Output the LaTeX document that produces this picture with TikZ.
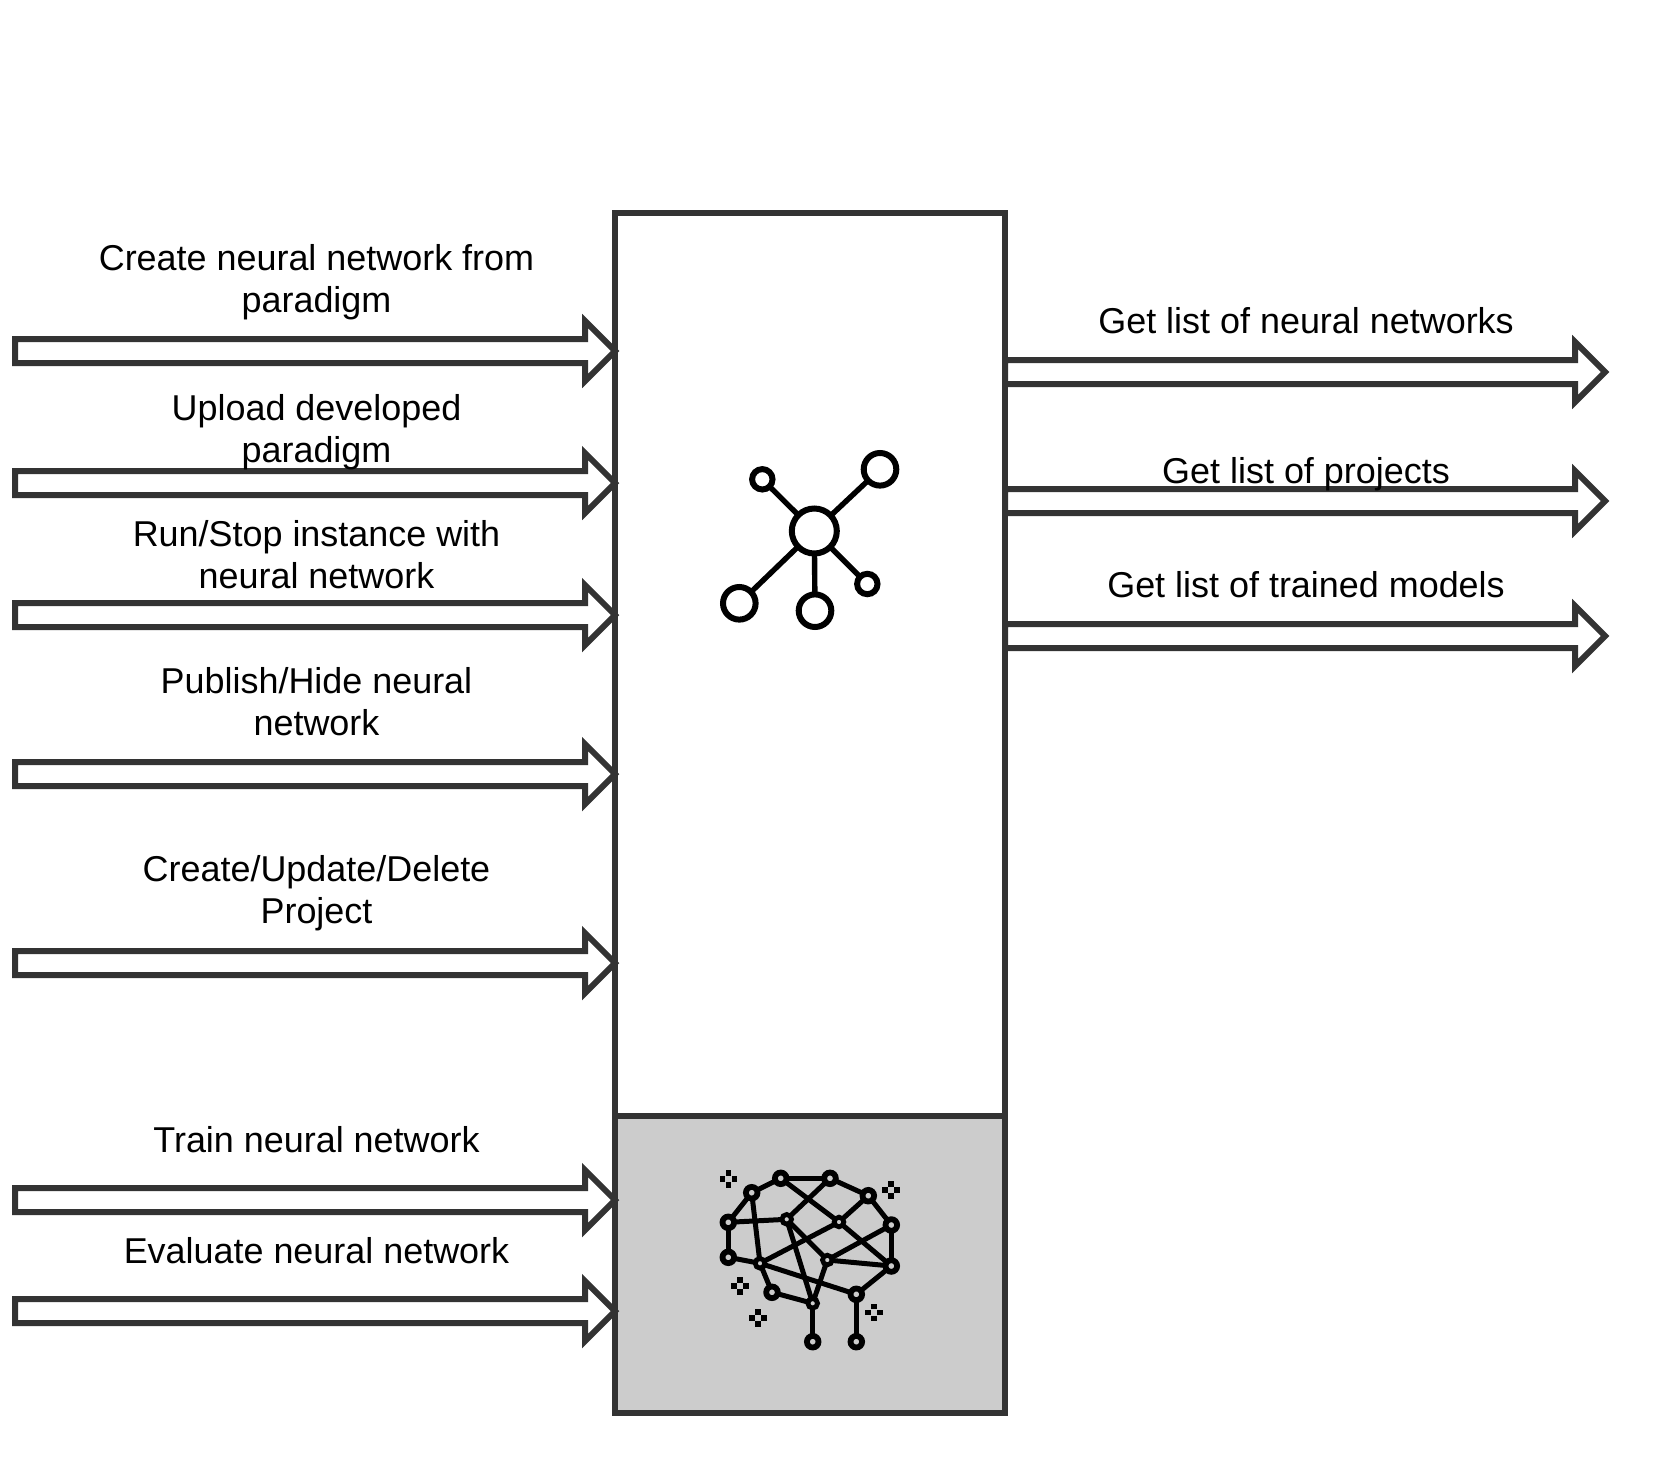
\documentclass[tikz,border=0pt]{standalone}
\usepackage{fontspec}
\setmainfont{Liberation Sans}
\usetikzlibrary{calc}
\def\pxu{0.02cm}
\definecolor{edgegray}{HTML}{333333}
\definecolor{panelgray}{HTML}{CCCCCC}
\tikzset{
    panel/.style={draw=edgegray, line width=6*\pxu, outer sep=0pt, inner sep=0pt, minimum width=390*\pxu},
    flowarrow/.style={draw=edgegray, line width=6*\pxu, fill=white, to path={
        -- ($(\tikztostart)+(0,-12)$) -- ($(\tikztotarget)+(-30,-12)$) -- ($(\tikztotarget)+(-30,-30)$)
        -- (\tikztotarget)
        -- ($(\tikztotarget)+(-30,30)$) -- ($(\tikztotarget)+(-30,12)$) -- ($(\tikztostart)+(0,12)$) -- cycle}},
    flowlabel/.style={align=center, text=black, inner sep=0pt, font=\fontsize{20.45}{23.8}\selectfont},
    hub/.style={circle, draw=black, fill=white, line width=6*\pxu, inner sep=0pt, outer sep=0pt, minimum size=2*#1*\pxu},
    neuron/.style={circle, draw=black, fill=panelgray, line width=#1*\pxu, inner sep=0pt, outer sep=0pt, minimum size=2*#1*\pxu},
}
\begin{document}
\begin{tikzpicture}[x=0.02cm, y=-0.02cm]
    \useasboundingbox (0,0) rectangle (1665,1473);

    % main box
    \node[panel, fill=white, minimum height=903*\pxu] (api) at (810,664.5) {};
    \node[panel, fill=panelgray, minimum height=297*\pxu] (trainer) at (810,1264.5) {};

    % free ends of the arrows
    \coordinate (in1) at (15,351);
    \coordinate (in2) at (15,483);
    \coordinate (in3) at (15,615);
    \coordinate (in4) at (15,774);
    \coordinate (in5) at (15,963);
    \coordinate (in6) at (15,1200);
    \coordinate (in7) at (15,1311);
    \coordinate (out1) at (1605,372);
    \coordinate (out2) at (1605,501);
    \coordinate (out3) at (1605,636);

    \foreach \n in {1,...,5}
        \draw[flowarrow] (in\n) to (api.west |- in\n);
    \foreach \n in {6,7}
        \draw[flowarrow] (in\n) to (trainer.west |- in\n);
    \foreach \n in {1,2,3}
        \draw[flowarrow] (api.east |- out\n) to (out\n);

    % labels
    \node[flowlabel] (lblcreate) at (316.5,282) {Create neural network from\\paradigm};
    \node[flowlabel] (lblupload) at (316.5,432.5) {Upload developed\\paradigm};
    \node[flowlabel] (lblrun) at (316.5,555) {Run/Stop instance with\\neural network};
    \node[flowlabel] (lblpublish) at (316.5,702) {Publish/Hide neural\\network};
    \node[flowlabel] (lblproject) at (316.5,893.5) {Create/Update/Delete\\Project};
    \node[flowlabel] (lbltrain) at (316.5,1140) {Train neural network};
    \node[flowlabel] (lbleval) at (316.5,1250.5) {Evaluate neural network};
    \node[flowlabel] (lbllist) at (1306,321) {Get list of neural networks};
    \node[flowlabel] (lblprojects) at (1306,474) {Get list of projects};
    \node[flowlabel] (lblmodels) at (1306,585) {Get list of trained models};

    % network icon
    \node[hub=22.5] (netc) at (814.3,531) {};
    \node[hub=16.3] (netne) at (880,469.3) {};
    \node[hub=10.2] (netnw) at (762.3,479.3) {};
    \node[hub=10.2] (netse) at (867.3,584) {};
    \node[hub=16.3] (netsw) at (739.3,603.3) {};
    \node[hub=16.3] (nets) at (815,610.7) {};
    \foreach \n in {ne,nw,se,sw,s}
        \draw[black, line width=5.4*\pxu] (netc) -- (net\n);

    % brain icon
    \node[neuron=5.8] (ba) at (728.3,1222.3) {};
    \node[neuron=5.8] (bb) at (751.7,1192.7) {};
    \node[neuron=5.8] (bc) at (780.7,1178.3) {};
    \node[neuron=5.8] (bd) at (830,1178.3) {};
    \node[neuron=5.8] (be) at (868.3,1195.7) {};
    \node[neuron=5.8] (bf) at (891.3,1225) {};
    \node[neuron=5.8] (bg) at (891.3,1266) {};
    \node[neuron=5.8] (bh) at (728.3,1257.3) {};
    \node[neuron=4.8] (bi) at (760,1263.3) {};
    \node[neuron=4.8] (bj) at (786.7,1219.3) {};
    \node[neuron=4.8] (bk) at (839,1222) {};
    \node[neuron=4.8] (bl) at (827.3,1260) {};
    \node[neuron=5.8] (bm) at (772,1292.3) {};
    \node[neuron=4.8] (bn) at (812.7,1303.3) {};
    \node[neuron=5.8] (bo) at (856.3,1294.3) {};
    \node[neuron=5.8] (bp) at (812.7,1341.7) {};
    \node[neuron=5.8] (bq) at (856.3,1341.7) {};
    \foreach \p/\q in {ba/bb, bb/bc, bc/bd, bd/be, be/bf, bf/bg, ba/bh, bh/bi, bb/bi, ba/bj,
                       bc/bk, bk/bg, bd/bj, be/bk, bj/bl, bj/bn, bi/bk, bl/bf, bl/bg, bi/bo,
                       bi/bm, bm/bn, bl/bn, bn/bp, bo/bg, bo/bq}
        \draw[black, line width=5*\pxu] (\p) -- (\q);

    % sparkles round the brain
    \foreach \cx/\cy in {728.3/1178.7, 891/1190, 740/1286, 757.7/1317.7, 873.7/1312.3}
        \foreach \dx/\dy in {-6/0, 6/0, 0/-6, 0/6}
            \fill[black] (\cx+\dx-2.8,\cy+\dy-2.8) rectangle (\cx+\dx+2.8,\cy+\dy+2.8);
\end{tikzpicture}
\end{document}
